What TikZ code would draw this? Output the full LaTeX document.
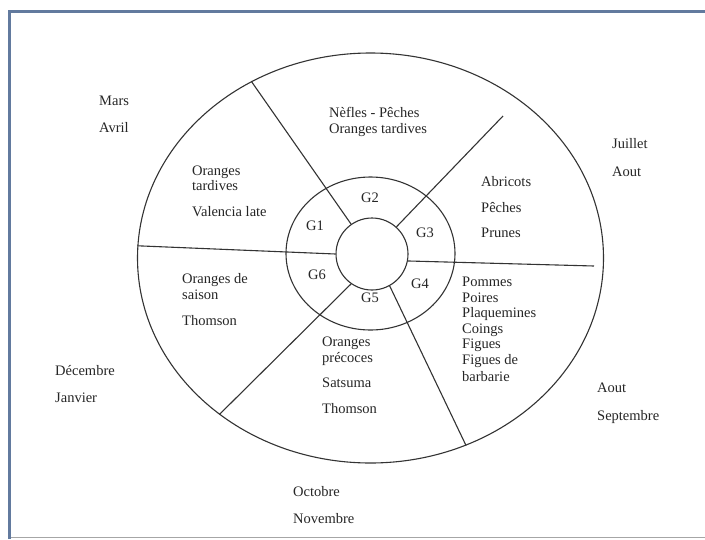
\documentclass[tikz,border=0pt]{standalone}
\usepackage{fontspec}
\setmainfont{Liberation Serif}
\usetikzlibrary{shapes.geometric}

\definecolor{framecol}{RGB}{98,122,158}
\tikzstyle{ring} = [shape=ellipse,draw=black!80,line width=1.1pt,inner sep=0pt]
\tikzstyle{spoke} = [draw=black!80,line width=1.1pt,-]
\tikzstyle{fruit} = [anchor=base west,inner sep=0pt,font=\fontsize{14.5}{16}\selectfont,text=black!85]
\tikzstyle{month} = [fruit]
\tikzstyle{group} = [anchor=base,inner sep=0pt,font=\fontsize{14.5}{16}\selectfont,text=black!85]
\tikzstyle{frame} = [draw=framecol,line width=3pt]

\begin{document}
\begin{tikzpicture}[x=1pt,y=-1pt]
      \useasboundingbox (0,0) rectangle (705,539);
      % window frame
      \fill[white] (0,0) rectangle (705,539);
      \draw[frame] (9.5,539) -- (9.5,11) -- (705,11);
      \draw[black!35,line width=1.5pt] (11,537.5) -- (705,537.5);
      % ellipses
      \node[ring, minimum width=466pt, minimum height=410pt] (outer) at (370.5,258) {};
      \node[ring, minimum width=169pt, minimum height=153pt] (middle) at (370.5,253.5) {};
      \node[ring, minimum width=72pt, minimum height=72pt] (hub) at (372,254) {};
      % spokes (two of them stop short of the rim)
      \coordinate (nestub) at (503,116);
      \coordinate (estub) at (594,266);
      \path
      \foreach \hubangle/\rim in {125/outer.124, 48/nestub, 180/outer.177, 349/estub, 235/outer.226, 299/outer.297}
      {
        (hub.\hubangle) edge[spoke] (\rim)
      };
      % groups
      \foreach \nodename/\x/\y in {G1/315/230, G2/370/202, G3/425/237, G4/420/288, G5/370/302, G6/317/279}
      {
        \node[group] (\nodename) at (\x,\y) {\nodename};
      };
      % fruits
      \foreach \nodename/\x/\y/\txt in {
        nef/329/117/Nèfles - Pêches, nefb/329/133/Oranges tardives,
        tar/192/175/Oranges, tarb/192/190/tardives, val/192/216/Valencia late,
        abr/481/186/Abricots, pec/481/212/Pêches, pru/481/237/Prunes,
        sai/182/283/Oranges de, saib/182/299/saison, tho/182/325/Thomson,
        pre/322/346/Oranges, preb/322/362/précoces, sat/322/387/Satsuma, thob/322/413/Thomson,
        pom/462/286/Pommes, poi/462/302/Poires, pla/462/317/Plaquemines, coi/462/333/Coings,
        fig/462/348/Figues, figb/462/364/Figues de, bar/462/381/barbarie}
      {
        \node[fruit] (\nodename) at (\x,\y) {\txt};
      };
      % months
      \foreach \nodename/\x/\y/\txt in {
        mar/99/105/Mars, avr/99/132/Avril,
        jui/612/148/Juillet, aou/612/176/Aout,
        dec/55/375/Décembre, jan/55/402/Janvier,
        aoub/597/392/Aout, sep/597/420/Septembre,
        oct/293/496/Octobre, nov/293/523/Novembre}
      {
        \node[month] (\nodename) at (\x,\y) {\txt};
      };
\end{tikzpicture}
\end{document}
